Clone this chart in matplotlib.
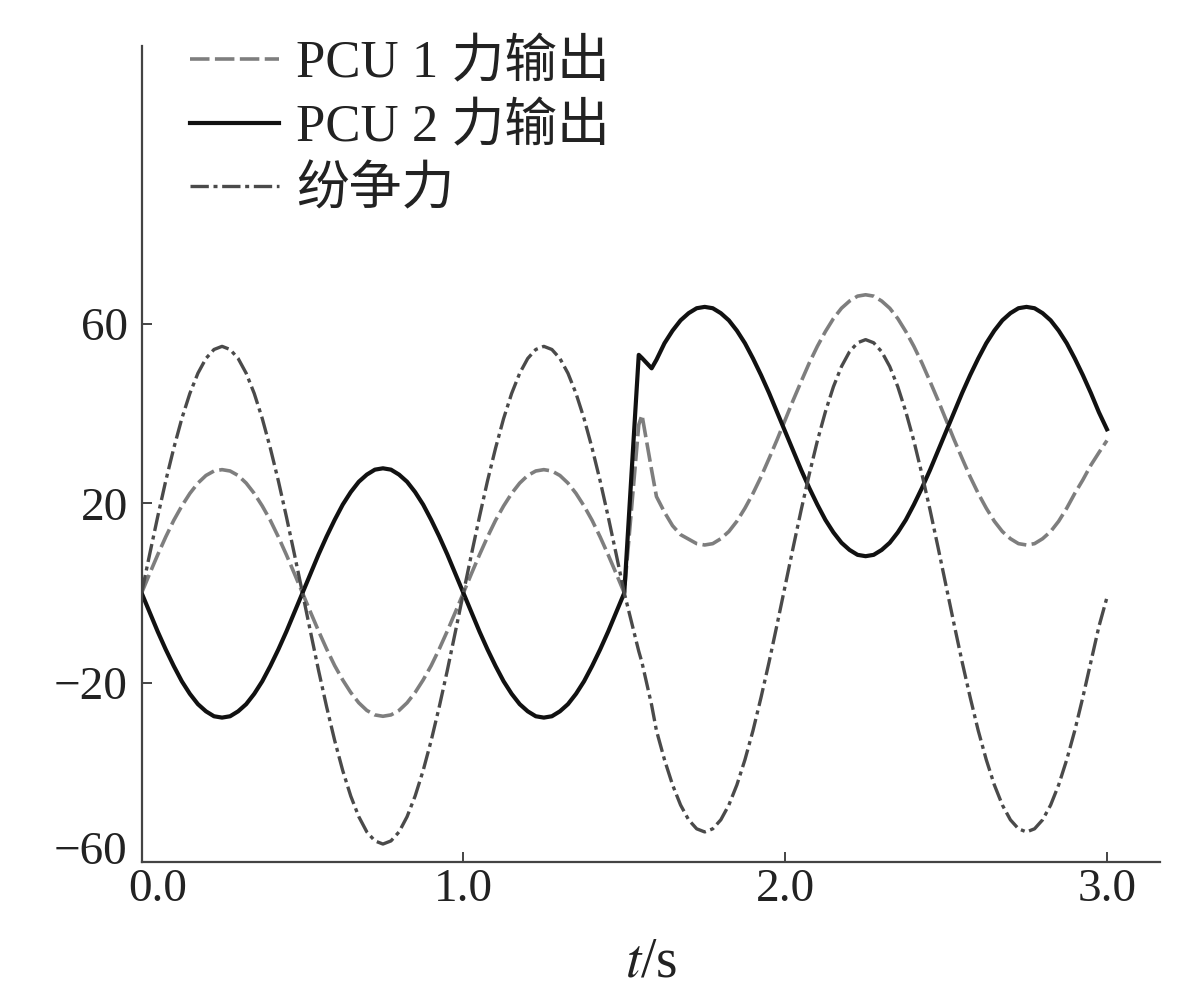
import matplotlib
matplotlib.use("Agg")
import matplotlib.pyplot as plt
from matplotlib.transforms import ScaledTranslation

plt.rcParams['font.family'] = ['Liberation Serif', 'Noto Sans CJK SC']
plt.rcParams['mathtext.fontset'] = 'stix'
plt.rcParams['axes.unicode_minus'] = True

# time samples (s)
t = [0.000, 0.025, 0.050, 0.075, 0.100, 0.125, 0.150, 0.175, 0.200, 0.225,
     0.250, 0.275, 0.300, 0.325, 0.350, 0.375, 0.400, 0.425, 0.450, 0.475,
     0.500, 0.525, 0.550, 0.575, 0.600, 0.625, 0.650, 0.675, 0.700, 0.725,
     0.750, 0.775, 0.800, 0.825, 0.850, 0.875, 0.900, 0.925, 0.950, 0.975,
     1.000, 1.025, 1.050, 1.075, 1.100, 1.125, 1.150, 1.175, 1.200, 1.225,
     1.250, 1.275, 1.300, 1.325, 1.350, 1.375, 1.400, 1.425, 1.450, 1.475,
     1.500, 1.545, 1.555, 1.585,
     1.600, 1.625, 1.650, 1.675, 1.700, 1.725, 1.750, 1.775, 1.800, 1.825,
     1.850, 1.875, 1.900, 1.925, 1.950, 1.975, 2.000, 2.025, 2.050, 2.075,
     2.100, 2.125, 2.150, 2.175, 2.200, 2.225, 2.250, 2.275, 2.300, 2.325,
     2.350, 2.375, 2.400, 2.425, 2.450, 2.475, 2.500, 2.525, 2.550, 2.575,
     2.600, 2.625, 2.650, 2.675, 2.700, 2.725, 2.750, 2.775, 2.800, 2.825,
     2.850, 2.875, 2.900, 2.925, 2.950, 2.975, 3.000]

# PCU 1 force output (dashed)
pcu1 = [0, 4.3, 8.5, 12.5, 16.2, 19.4, 22.2, 24.5, 26.2, 27.2, 27.5, 27.2, 26.2, 24.5, 22.2, 19.4, 16.2, 12.5, 8.5, 4.3,
        0, -4.3, -8.5, -12.5, -16.2, -19.4, -22.2, -24.5, -26.2, -27.2, -27.5, -27.2, -26.2, -24.5, -22.2, -19.4, -16.2, -12.5, -8.5, -4.3,
        0, 4.3, 8.5, 12.5, 16.2, 19.4, 22.2, 24.5, 26.2, 27.2, 27.5, 27.2, 26.2, 24.5, 22.2, 19.4, 16.2, 12.5, 8.5, 4.3,
        0, 37.5, 39.7, 27.4,
        21.5, 18.0, 15.0, 13.0, 12.0, 11.0, 10.7, 11.0, 12.1, 13.7,
        16.0, 18.9, 22.2, 25.9, 30.0, 34.2, 38.6, 43.0, 47.2, 51.3,
        55.0, 58.3, 61.2, 63.5, 65.1, 66.2, 66.5, 66.2, 65.1, 63.5,
        61.2, 58.3, 55.0, 51.3, 47.2, 43.0, 38.6, 34.2, 30.0, 25.9,
        22.2, 18.9, 16.0, 13.7, 12.1, 11.0, 10.7, 11.0, 12.1, 13.7,
        16.0, 18.9, 22.2, 25.2, 28.5, 31.3, 34.0]

# PCU 2 force output (solid)
pcu2 = [0, -4.3, -8.6, -12.6, -16.3, -19.7, -22.5, -24.8, -26.4, -27.5, -27.8, -27.5, -26.4, -24.8, -22.5, -19.7, -16.3, -12.6, -8.6, -4.3,
        0, 4.3, 8.6, 12.6, 16.3, 19.7, 22.5, 24.8, 26.4, 27.5, 27.8, 27.5, 26.4, 24.8, 22.5, 19.7, 16.3, 12.6, 8.6, 4.3,
        0, -4.3, -8.6, -12.6, -16.3, -19.7, -22.5, -24.8, -26.4, -27.5, -27.8, -27.5, -26.4, -24.8, -22.5, -19.7, -16.3, -12.6, -8.6, -4.3,
        0, 53.1, 52.4, 50.1,
        52.0, 55.7, 58.5, 60.8, 62.4, 63.5, 63.8, 63.5, 62.4, 60.8,
        58.5, 55.7, 52.3, 48.6, 44.6, 40.3, 36.0, 31.7, 27.4, 23.4,
        19.7, 16.3, 13.5, 11.2, 9.6, 8.5, 8.2, 8.5, 9.6, 11.2,
        13.5, 16.3, 19.7, 23.4, 27.4, 31.7, 36.0, 40.3, 44.6, 48.6,
        52.3, 55.7, 58.5, 60.8, 62.4, 63.5, 63.8, 63.5, 62.4, 60.8,
        58.5, 55.7, 52.3, 48.6, 44.6, 40.3, 36.5]

# fighting force (dash-dot)
dispute = [0, 8.6, 17.0, 25.0, 32.3, 38.9, 44.5, 49.0, 52.3, 54.3, 55.0, 54.3, 52.3, 49.0, 44.5, 38.9, 32.3, 25.0, 17.0, 8.6,
           0, -8.7, -17.3, -25.4, -32.9, -39.6, -45.3, -49.9, -53.3, -55.3, -56.0, -55.3, -53.3, -49.9, -45.3, -39.6, -32.9, -25.4, -17.3, -8.7,
           0, 8.6, 17.0, 25.0, 32.3, 38.9, 44.5, 49.0, 52.3, 54.3, 55.0, 54.3, 52.3, 49.0, 44.5, 38.9, 32.3, 25.0, 17.0, 8.6,
           0, -13.0, -15.5, -25.0,
           -30.7, -37.2, -42.8, -47.3, -50.6, -52.6, -53.3, -52.6, -50.6, -47.3,
           -42.8, -37.2, -30.7, -23.3, -15.4, -7.0, 1.6, 10.2, 18.6, 26.5,
           33.9, 40.4, 46.0, 50.5, 53.8, 55.8, 56.5, 55.8, 53.8, 50.5,
           46.0, 40.4, 33.9, 26.5, 18.6, 10.2, 1.6, -7.0, -15.4, -23.3,
           -30.7, -37.2, -42.8, -47.3, -50.6, -52.6, -53.3, -52.6, -50.6, -47.3,
           -42.8, -37.2, -30.7, -23.3, -15.4, -7.5, -1.0]

labels = ['PCU 1 力输出', 'PCU 2 力输出', '纷争力']
xticks = [0, 1, 2, 3]
xticklabels = ['0.0', '1.0', '2.0', '3.0']
yticks = [-60, -20, 20, 60]

fig = plt.figure(figsize=(12, 10.05), dpi=100)
ax = fig.add_axes([0.118, 0.1423, 0.8487, 0.812])

ax.plot(t, pcu1, color='#7e7e7e', lw=2.6, dashes=(5.4, 1.5), label=labels[0],
        dash_joinstyle='round')
ax.plot(t, pcu2, color='#111111', lw=3.0, label=labels[1],
        solid_joinstyle='round')
ax.plot(t, dispute, color='#4a4a4a', lw=2.4, dashes=(5.5, 1.4, 1.2, 1.4), label=labels[2],
        dash_joinstyle='round')

ax.set_xlim(0, 3.165)
ax.set_ylim(-60, 122)
ax.set_xticks(xticks)
ax.set_xticklabels(xticklabels)
ax.set_yticks(yticks)

for s in ['top', 'right']:
    ax.spines[s].set_visible(False)
for s in ['left', 'bottom']:
    ax.spines[s].set_linewidth(1.6)
    ax.spines[s].set_color('#444444')

ax.tick_params(axis='both', direction='in', length=7, width=1.4, color='#444444',
               labelsize=34, labelcolor='#222222')
ax.tick_params(axis='y', pad=10)
ax.tick_params(axis='x', pad=5)

# nudge the two corner labels apart, as in the original
ax.get_yticklabels()[0].set_transform(
    ax.get_yticklabels()[0].get_transform() + ScaledTranslation(0, 14 / 100, fig.dpi_scale_trans))
ax.get_xticklabels()[0].set_transform(
    ax.get_xticklabels()[0].get_transform() + ScaledTranslation(16 / 100, 0, fig.dpi_scale_trans))

ax.set_xlabel('$t$/s', fontsize=40, color='#222222', labelpad=18)

ax.legend(loc='upper left', bbox_to_anchor=(0.022, 1.04), frameon=False,
          fontsize=38, handlelength=1.67, handletextpad=0.33, labelspacing=0.27,
          borderpad=0, labelcolor='#222222')

fig.savefig('out.png', dpi=100)
